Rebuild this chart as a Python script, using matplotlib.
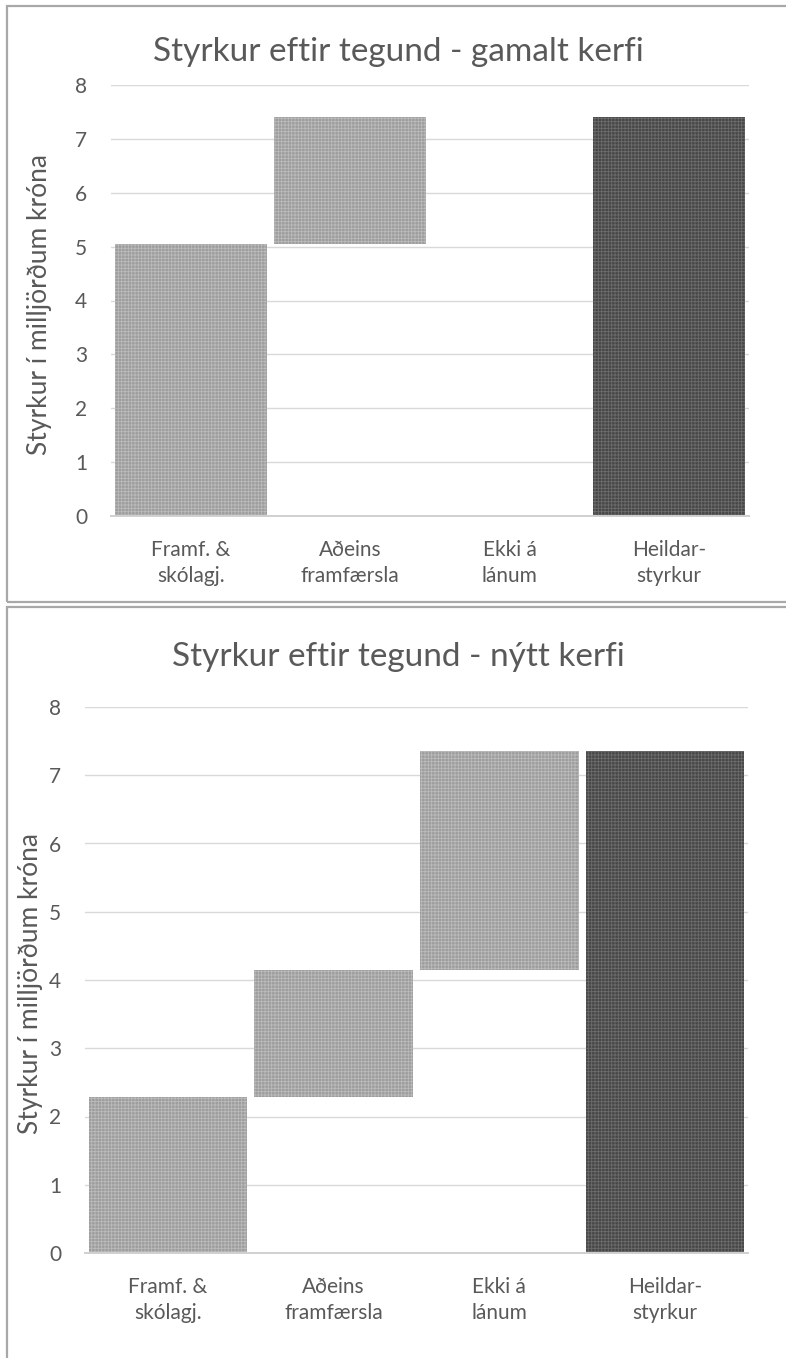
import numpy as np
import matplotlib
matplotlib.use("Agg")
import matplotlib.pyplot as plt
from matplotlib.patches import Rectangle

plt.rcParams['font.family'] = ['Lato', 'DejaVu Sans']
plt.rcParams['hatch.linewidth'] = 0.6

categories = ["Framf. &\nskólagj.", "Aðeins\nframfærsla", "Ekki á\nlánum", "Heildar-\nstyrkur"]
old_parts = [5.05, 2.35, 0.0]
new_parts = [2.28, 1.87, 3.20]
titles = ["Styrkur eftir tegund - gamalt kerfi", "Styrkur eftir tegund - nýtt kerfi"]
ylabel = "Styrkur í milljörðum króna"
yticks = [0, 1, 2, 3, 4, 5, 6, 7, 8]

W, H = 786, 1358
fig = plt.figure(figsize=(W / 100, H / 100), dpi=100)

TXT = '#595959'
LIGHT_FACE, LIGHT_HATCH = '#9d9d9d', '#bbbbbb'
DARK_FACE, DARK_HATCH = '#474747', '#6c6c6c'


def fx(px):
    return px / W


def fy(py):
    return 1 - py / H


# chart borders
for (x0, y0, x1, y1) in [(7, 6, 792, 602), (7, 607, 792, 1362)]:
    fig.patches.append(Rectangle((fx(x0), fy(y1)), fx(x1 - x0), (y1 - y0) / H,
                                 transform=fig.transFigure, fill=False,
                                 edgecolor='#a8a8a8', linewidth=1.6, zorder=0))

layouts = [
    dict(left=111, right=749, top=85, bottom=516, title_y=52, ylab_x=40, xpad=17),
    dict(left=85, right=748, top=707, bottom=1253, title_y=657, ylab_x=31, xpad=17),
]

for parts, title, lay in zip([old_parts, new_parts], titles, layouts):
    ax = fig.add_axes([fx(lay['left']), fy(lay['bottom']),
                       fx(lay['right'] - lay['left']), (lay['bottom'] - lay['top']) / H])
    parts = np.array(parts)
    total = parts.sum()
    heights = list(parts) + [total]
    bottoms = list(np.concatenate([[0], np.cumsum(parts)[:-1]])) + [0]
    x = np.arange(len(categories))
    for i in range(len(categories)):
        if heights[i] <= 0:
            continue
        dark = i == len(categories) - 1
        ax.bar(x[i], heights[i], bottom=bottoms[i], width=0.955,
               color=DARK_FACE if dark else LIGHT_FACE,
               edgecolor=DARK_HATCH if dark else LIGHT_HATCH,
               hatch='+++++', linewidth=0, zorder=3)
    ax.set_xlim(-0.5, len(categories) - 0.5)
    ax.set_ylim(0, 8)
    ax.set_yticks(yticks)
    ax.set_xticks(x)
    ax.set_xticklabels(categories, linespacing=1.4)
    ax.grid(axis='y', color='#d9d9d9', linewidth=1.0, zorder=0)
    ax.set_axisbelow(True)
    for s in ['top', 'right', 'left']:
        ax.spines[s].set_visible(False)
    ax.spines['bottom'].set_color('#d0d0d0')
    ax.spines['bottom'].set_linewidth(1.4)
    ax.spines['bottom'].set_zorder(4)
    ax.tick_params(axis='y', length=0, pad=17, labelsize=15, labelcolor=TXT)
    ax.tick_params(axis='x', length=0, pad=lay['xpad'], labelsize=15, labelcolor=TXT)
    fig.text(fx(398), fy(lay['title_y']), title, ha='center', va='center',
             fontsize=24, color=TXT)
    fig.text(fx(lay['ylab_x']), fy((lay['top'] + lay['bottom']) / 2 + 4), ylabel,
             rotation=90, ha='center', va='center', fontsize=19, color=TXT)

fig.savefig('out.png', dpi=100, facecolor='white')
